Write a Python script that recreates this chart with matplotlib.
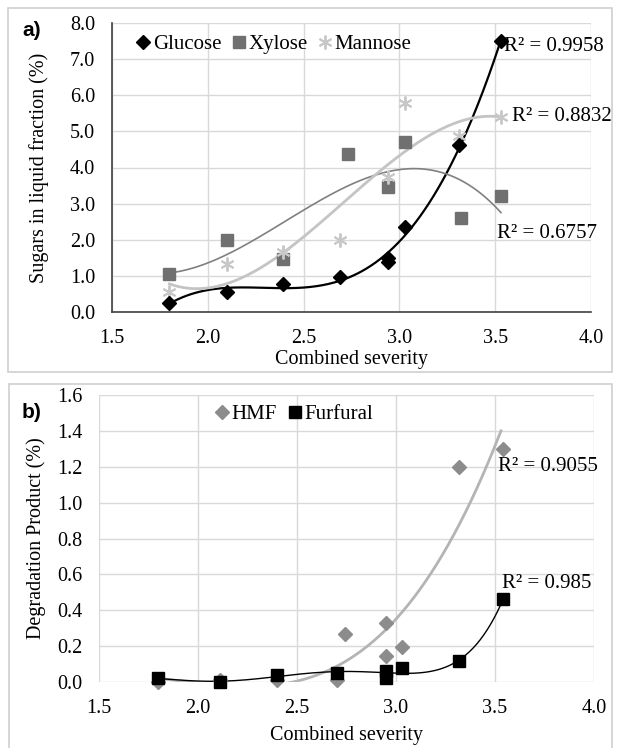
import numpy as np
import matplotlib
matplotlib.use("Agg")
import matplotlib.pyplot as plt
from matplotlib.patches import Rectangle

# ---- data (panel a) ----
glucose_x = [1.80, 2.10, 2.39, 2.69, 2.94, 2.94, 3.03, 3.31, 3.53]
glucose_y = [0.26, 0.56, 0.77, 0.98, 1.50, 1.38, 2.34, 4.61, 7.49]
xylose_x = [1.80, 2.10, 2.39, 2.73, 2.94, 3.03, 3.32, 3.53]
xylose_y = [1.05, 2.00, 1.47, 4.36, 3.47, 4.70, 2.61, 3.21]
mannose_x = [1.80, 2.10, 2.39, 2.69, 2.94, 3.03, 3.31, 3.53]
mannose_y = [0.56, 1.32, 1.65, 2.00, 3.75, 5.78, 4.86, 5.41]
r2_a = ["R² = 0.9958", "R² = 0.6757", "R² = 0.8832"]

# ---- data (panel b) ----
hmf_x = [1.80, 2.11, 2.40, 2.70, 2.74, 2.95, 2.95, 3.03, 3.32, 3.54]
hmf_y = [0.00, 0.01, 0.01, 0.01, 0.27, 0.33, 0.145, 0.195, 1.20, 1.30]
furf_x = [1.80, 2.11, 2.40, 2.70, 2.95, 2.95, 3.03, 3.32, 3.54]
furf_y = [0.02, 0.00, 0.04, 0.05, 0.06, 0.02, 0.08, 0.115, 0.46]
r2_b = ["R² = 0.9055", "R² = 0.985"]

xticks = [1.5, 2.0, 2.5, 3.0, 3.5, 4.0]
yticks_a = [0, 1, 2, 3, 4, 5, 6, 7, 8]
yticks_b = [0, 0.2, 0.4, 0.6, 0.8, 1.0, 1.2, 1.4, 1.6]

SERIF = ["Liberation Serif", "DejaVu Serif"]
FS = 14.5
W, H = 619, 748
fig = plt.figure(figsize=(W / 100, H / 100), dpi=100)
fig.patch.set_facecolor("white")

# panel frames
fig.add_artist(Rectangle((8 / W, 1 - 372 / H), 604 / W, 364 / H, transform=fig.transFigure,
                         fill=False, edgecolor="#d0d0d0", lw=1.2))
fig.add_artist(Rectangle((9 / W, 1 - 760 / H), 603 / W, 376 / H, transform=fig.transFigure,
                         fill=False, edgecolor="#d0d0d0", lw=1.2))


def fit_curve(x, y, deg, x0, x1):
    c = np.polyfit(x, y, deg)
    xs = np.linspace(x0, x1, 300)
    return xs, np.polyval(c, xs)


def style_axes(ax, yticks, fmt, dark_spines):
    ax.set_xlim(1.5, 4.0)
    ax.set_ylim(yticks[0], yticks[-1])
    ax.set_xticks(xticks)
    ax.set_yticks(yticks)
    ax.set_xticklabels([f"{t:.1f}" for t in xticks], fontfamily=SERIF, fontsize=FS)
    ax.set_yticklabels([fmt.format(t) for t in yticks], fontfamily=SERIF, fontsize=FS)
    ax.tick_params(length=0, pad=12)
    ax.grid(True, color="#d9d9d9", lw=1.0)
    ax.set_axisbelow(True)
    for s in ["top", "right"]:
        ax.spines[s].set_visible(False)
    for s in ["left", "bottom"]:
        if dark_spines:
            ax.spines[s].set_color("#404040")
            ax.spines[s].set_linewidth(1.2)
        else:
            ax.spines[s].set_visible(False)


# ---------- panel a ----------
axa = fig.add_axes([112 / W, 1 - 312 / H, (591 - 112) / W, (312 - 23) / H])
style_axes(axa, yticks_a, "{:.1f}", True)

xs, ys = fit_curve(glucose_x, glucose_y, 4, 1.80, 3.53)
axa.plot(xs, ys, color="black", lw=1.6, zorder=3)
xs, ys = fit_curve(xylose_x, xylose_y, 3, 1.80, 3.53)
axa.plot(xs, ys, color="#808080", lw=1.2, zorder=3)
xs, ys = fit_curve(mannose_x, mannose_y, 3, 1.80, 3.53)
axa.plot(xs, ys, color="#c4c4c4", lw=2.0, zorder=3)

axa.plot(glucose_x, glucose_y, ls="none", marker="D", ms=7.5, color="black", label="Glucose", zorder=5)
axa.plot(xylose_x, xylose_y, ls="none", marker="s", ms=9, color="#707070", label="Xylose", zorder=4)
axa.plot(mannose_x, mannose_y, ls="none", marker=(6, 2, 0), ms=10, mew=1.4, color="#c8c8c8",
         label="Mannose", zorder=4)

axa.text(3.546, 7.35, r2_a[0], fontfamily=SERIF, fontsize=FS + 0.5, va="center", ha="left")
axa.text(3.508, 2.18, r2_a[1], fontfamily=SERIF, fontsize=FS + 0.5, va="center", ha="left")
axa.text(3.59, 5.41, r2_a[2], fontfamily=SERIF, fontsize=FS + 0.5, va="center", ha="left")

axa.legend(loc="upper left", bbox_to_anchor=(0.035, 0.99), ncol=3, frameon=False,
           prop={"family": SERIF, "size": FS + 0.5}, handlelength=0.6, handletextpad=0.15,
           columnspacing=0.55, borderaxespad=0)
axa.set_xlabel("Combined severity", fontfamily=SERIF, fontsize=FS, labelpad=2)
axa.set_ylabel("Sugars in liquid fraction (%)", fontfamily=SERIF, fontsize=FS)
axa.yaxis.set_label_coords((49 - 112) / (591 - 112), 0.5)
fig.text(22 / W, 1 - 30 / H, "a)", fontfamily=["Liberation Sans", "DejaVu Sans"], fontweight="bold",
         fontsize=15, ha="left", va="center")

# ---------- panel b ----------
axb = fig.add_axes([99 / W, 1 - 682 / H, (594 - 99) / W, (682 - 395) / H])
style_axes(axb, yticks_b, "{:.1f}", False)

xs, ys = fit_curve(hmf_x, hmf_y, 3, 1.80, 3.53)
axb.plot(xs, ys, color="#b4b4b4", lw=2.0, zorder=3)
xs, ys = fit_curve(furf_x, furf_y, 5, 1.80, 3.54)
axb.plot(xs, ys, color="black", lw=1.0, zorder=3)

axb.plot(hmf_x, hmf_y, ls="none", marker="D", ms=7.5, color="#8c8c8c", label="HMF", zorder=4,
         clip_on=False)
axb.plot(furf_x, furf_y, ls="none", marker="s", ms=9, color="black", label="Furfural", zorder=5,
         clip_on=False)

axb.text(3.515, 1.20, r2_b[0], fontfamily=SERIF, fontsize=FS + 0.5, va="center", ha="left")
axb.text(3.537, 0.55, r2_b[1], fontfamily=SERIF, fontsize=FS + 0.5, va="center", ha="left")

axb.legend(loc="upper left", bbox_to_anchor=(0.22, 0.995), ncol=2, frameon=False,
           prop={"family": SERIF, "size": FS + 0.5}, handlelength=0.6, handletextpad=0.15,
           columnspacing=0.55, borderaxespad=0)
axb.set_xlabel("Combined severity", fontfamily=SERIF, fontsize=FS, labelpad=6)
axb.set_ylabel("Degradation Product (%)", fontfamily=SERIF, fontsize=FS)
axb.yaxis.set_label_coords((46 - 99) / (594 - 99), 0.5)
fig.text(22 / W, 1 - 412 / H, "b)", fontfamily=["Liberation Sans", "DejaVu Sans"], fontweight="bold",
         fontsize=15, ha="left", va="center")

fig.savefig("out.png", dpi=100)
